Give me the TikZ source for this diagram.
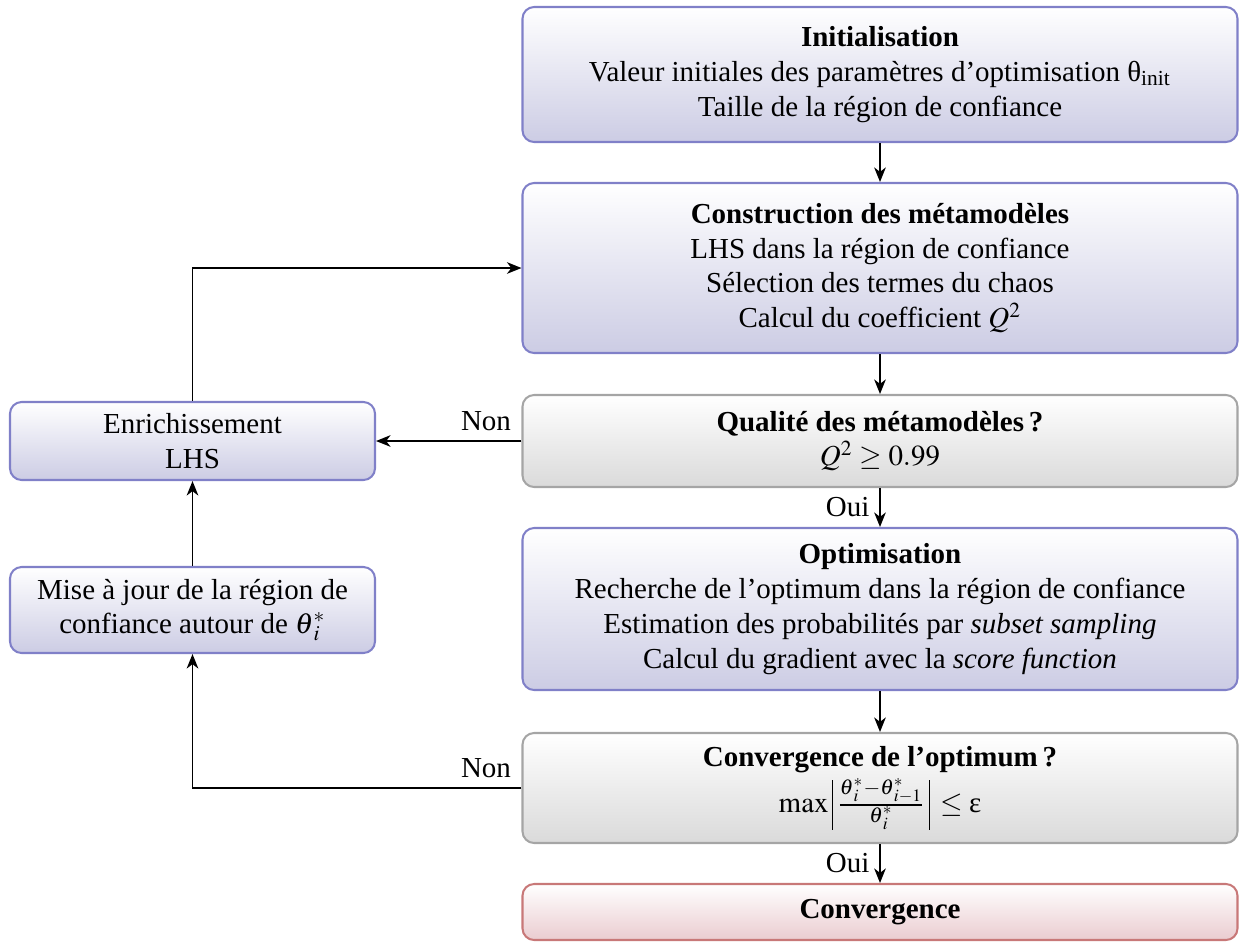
\documentclass[tikz,border=0pt]{standalone}
\usepackage{mathptmx}
\usepackage{amsmath}
\usepackage[no-math]{fontspec}
\setmainfont{Liberation Serif}
\usetikzlibrary{arrows.meta}
\definecolor{bluedraw}{RGB}{128,128,200}
\definecolor{bluefill}{RGB}{204,204,228}
\definecolor{graydraw}{RGB}{165,165,165}
\definecolor{grayfill}{RGB}{218,218,218}
\definecolor{reddraw}{RGB}{200,120,120}
\definecolor{redfill}{RGB}{234,204,208}
\newcommand\lbar{\mathopen{\,\vcenter{\hbox{\vrule width 0.45pt height 17pt}}\,}}
\newcommand\rbar{\mathclose{\,\vcenter{\hbox{\vrule width 0.45pt height 17pt}}\,}}
\tikzset{
  box/.style={rounded corners=4pt, line width=0.7pt, align=center, inner sep=2pt, top color=white},
  bluebox/.style={box, draw=bluedraw, bottom color=bluefill},
  graybox/.style={box, draw=graydraw, bottom color=grayfill},
  redbox/.style={box, draw=reddraw, bottom color=redfill},
  arr/.style={-{Stealth[length=5pt,width=4pt,inset=1.5pt]}, line width=0.6pt},
  lbl/.style={font=\normalsize}
}
\begin{document}
\begin{tikzpicture}[x=0.345pt,y=-0.345pt]
\useasboundingbox (0,0) rectangle (1241,942);
\node[bluebox, minimum width=715*0.345pt, minimum height=135*0.345pt] (init) at (880,74.5)
  {\textbf{Initialisation}\\Valeur initiales des paramètres d’optimisation θ$_{\text{init}}$\\Taille de la région de confiance};
\node[bluebox, minimum width=715*0.345pt, minimum height=170*0.345pt] (constr) at (880,268)
  {\textbf{Construction des métamodèles}\\LHS dans la région de confiance\\Sélection des termes du chaos\\Calcul du coefficient $Q^2$};
\node[graybox, minimum width=715*0.345pt, minimum height=92*0.345pt] (qual) at (880,441)
  {\textbf{Qualité des métamodèles\,?}\\$Q^2 \geq 0.99$};
\node[bluebox, minimum width=715*0.345pt, minimum height=162*0.345pt] (optim) at (880,609)
  {\textbf{Optimisation}\\Recherche de l’optimum dans la région de confiance\\Estimation des probabilités par \textit{subset sampling}\\Calcul du gradient avec la \textit{score function}};
\node[graybox, minimum width=715*0.345pt, minimum height=110*0.345pt] (convq) at (880,788)
  {\textbf{Convergence de l’optimum\,?}\\[1pt]$\max\lbar\frac{\boldsymbol{\theta}_i^*-\boldsymbol{\theta}_{i-1}^*}{\boldsymbol{\theta}_i^*}\rbar \leq \text{ε}$};
\node[redbox, minimum width=715*0.345pt, minimum height=56*0.345pt] (conv) at (880,912)
  {\textbf{Convergence}};
\node[bluebox, minimum width=365*0.345pt, minimum height=78*0.345pt] (enrich) at (192.5,441)
  {Enrichissement\\LHS};
\node[bluebox, minimum width=365*0.345pt, minimum height=86*0.345pt] (maj) at (192.5,610)
  {Mise à jour de la région de\\confiance autour de $\boldsymbol{\theta}_i^*$};
\draw[arr] (init) -- (constr);
\draw[arr] (constr) -- (qual);
\draw[arr] (qual) -- node[left, lbl] {Oui} (optim);
\draw[arr] (optim) -- (convq);
\draw[arr] (convq) -- node[left, lbl] {Oui} (conv);
\draw[arr] (qual.west) -- node[pos=0, above left, lbl] {Non} (enrich.east);
\draw[arr] (convq.west) -| node[pos=0, above left, lbl] {Non} (maj.south);
\draw[arr] (maj.north) -- (enrich.south);
\draw[arr] (enrich.north) |- (constr.west);
\end{tikzpicture}
\end{document}
